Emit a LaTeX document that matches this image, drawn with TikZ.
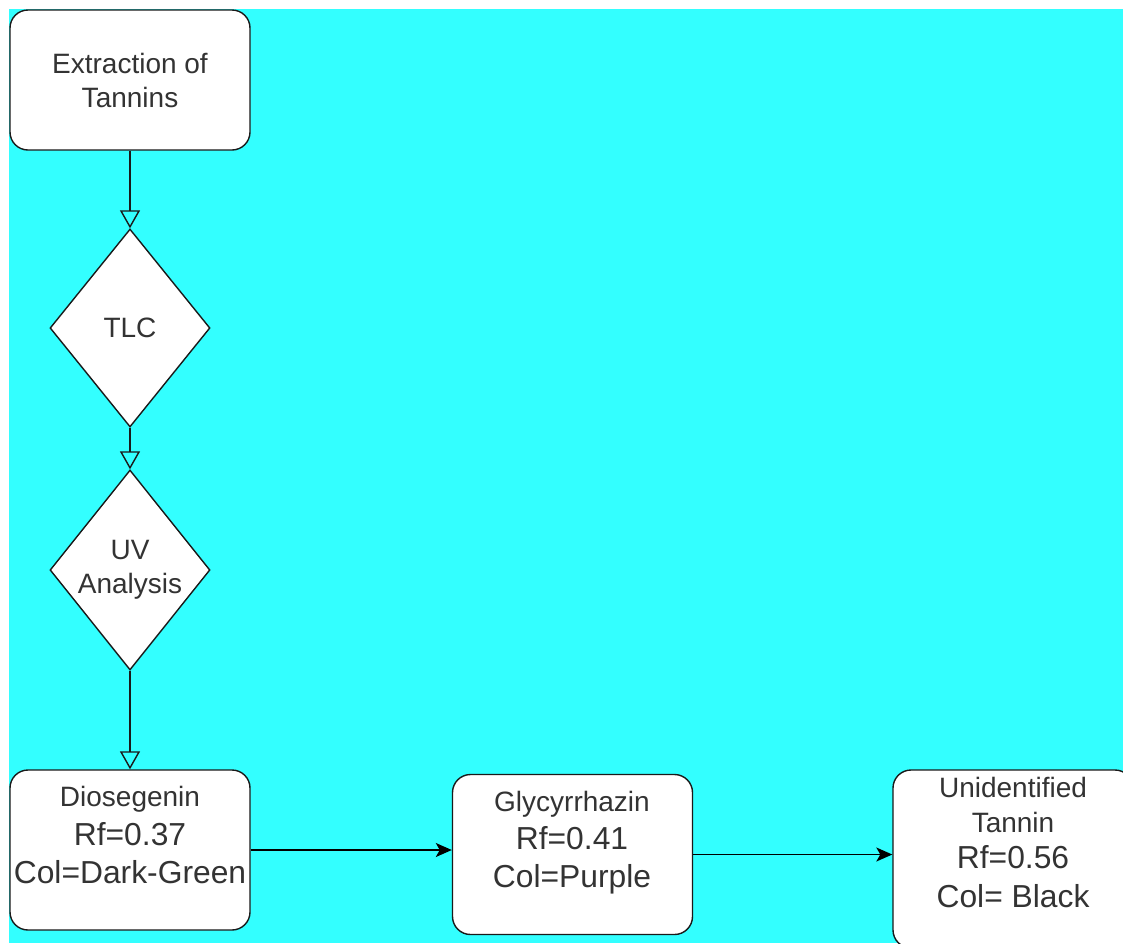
\documentclass[tikz,border=0pt]{standalone}
\usepackage{fontspec}
\setmainfont{Liberation Sans}
\usetikzlibrary{shapes.geometric,arrows.meta}
\definecolor{bgcyan}{HTML}{33FFFF}
\definecolor{txtgray}{HTML}{333333}
\definecolor{edgecol}{HTML}{1A1A1A}
\newcommand\myhd{\fontsize{28}{34}\selectfont}
\newcommand\myrf{\fontsize{31.8}{38}\selectfont}
\begin{document}
\begin{tikzpicture}[x=1pt,y=-1pt,
  box/.style={draw=edgecol, line width=1.4pt, fill=white, rounded corners=18pt,
    minimum width=240pt, inner sep=0pt, text=txtgray, align=center},
  dia/.style={diamond, aspect=0.8, draw=edgecol, line width=1.4pt, fill=white,
    minimum width=160pt, minimum height=198pt, inner sep=0pt,
    text=txtgray, font=\myhd, align=center},
  lbl/.style={text=txtgray, align=center, inner sep=0pt, anchor=north},
  openarr/.style={draw=edgecol, line width=1.4pt,
    -{Triangle[open, length=18pt, width=20pt, line width=1.4pt]}},
  fillarr/.style={draw=black, line width=1.4pt,
    -{Stealth[length=16pt, width=14pt, inset=4pt]}}
]
\fill[white] (0,0) rectangle (1123,943);
\fill[bgcyan] (9,9) rectangle (1123,943);
\useasboundingbox (0,0) rectangle (1123,943);

% nodes
\node[box, minimum height=140pt, font=\myhd] (ext) at (130,80) {Extraction of\\Tannins};
\node[dia] (tlc) at (130,328) {TLC};
\node[dia, minimum height=200pt] (uv) at (130,570) {\fontsize{28}{33}\selectfont UV\\Analysis};

\node[box, minimum height=160pt] (dio) at (130,850) {};
\node[lbl, font=\fontsize{28}{38.5}\selectfont] (diot) at (130,786)
  {{\myhd Diosegenin}\\{\myrf Rf=0.37}\\{\myrf Col=Dark-Green}};

\node[box, minimum height=160pt] (gly) at (572.5,854.5) {};
\node[lbl, font=\fontsize{28}{38}\selectfont] (glyt) at (572,791)
  {{\myhd Glycyrrhazin}\\{\myrf Rf=0.41}\\{\myrf Col=Purple}};

\node[box, minimum height=178pt] (unid) at (1013,859) {};
\node[lbl, font=\fontsize{28}{35}\selectfont] (unidt) at (1013,777)
  {{\myhd Unidentified}\\{\myhd Tannin}\\[1pt]{\myrf Rf=0.56}\\[4pt]{\myrf Col= Black}};

% connectors
\draw[openarr] (ext.south) -- (tlc.north);
\draw[openarr] (tlc.south) -- (uv.north);
\draw[openarr] (uv.south) -- (dio.north);
\draw[fillarr] (dio.east) -- (dio.east -| gly.west);
\draw[fillarr] (gly.east) -- (gly.east -| unid.west);
\end{tikzpicture}
\end{document}
